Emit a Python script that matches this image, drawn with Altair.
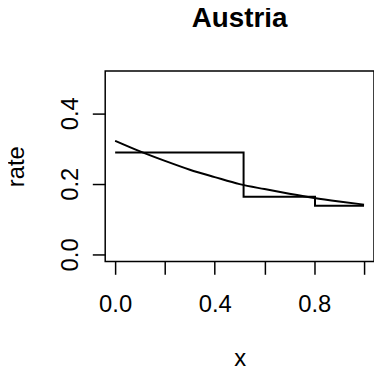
import altair as alt
import pandas as pd

# step function (piecewise-constant rate)
step_x = [0.0, 0.516, 0.803, 1.0]
step_y = [0.289, 0.163, 0.138, 0.138]

# smooth fitted curve
curve_x = [0.0, 0.1, 0.2, 0.3, 0.4, 0.5, 0.6, 0.7, 0.8, 0.9, 1.0]
curve_y = [0.322, 0.292, 0.265, 0.240, 0.219, 0.199, 0.185, 0.172, 0.160, 0.150, 0.141]

x_ticks = [0.0, 0.2, 0.4, 0.6, 0.8, 1.0]
x_labels = ["0.0", "", "0.4", "", "0.8", ""]
y_ticks = [0.0, 0.1, 0.2, 0.3, 0.4, 0.5]
y_labels = ["0.0", "", "0.2", "", "0.4", ""]

FONT = "Liberation Sans"


def label_expr(ticks, labels):
    parts = []
    for t, l in zip(ticks, labels):
        parts.append(f"abs(datum.value - {t}) < 1e-6 ? '{l}'")
    return " : ".join(parts) + " : ''"


step_df = pd.DataFrame({"x": step_x, "y": step_y})
curve_df = pd.DataFrame({"x": curve_x, "y": curve_y})

xscale = alt.Scale(domain=[-0.04, 1.04], nice=False, zero=False)
yscale = alt.Scale(domain=[-0.02, 0.52], nice=False, zero=False)

xaxis = alt.Axis(
    values=x_ticks, labelExpr=label_expr(x_ticks, x_labels), title="x",
    grid=False, domain=False, tickColor="black", tickSize=13, tickWidth=1.5,
    labelFont=FONT, labelFontSize=24, labelColor="black", labelPadding=38,
    labelBaseline="alphabetic", labelFlush=False, labelOverlap=False,
    titleFont=FONT, titleFontSize=24, titleFontWeight="normal", titleColor="black",
    titleBaseline="alphabetic", titleY=105,
)
yaxis = alt.Axis(
    values=y_ticks, labelExpr=label_expr(y_ticks, y_labels), title="rate",
    grid=False, domain=False, tickColor="black", tickSize=13, tickWidth=1.5,
    labelFont=FONT, labelFontSize=24, labelColor="black", labelPadding=15,
    labelAngle=270, labelAlign="center", labelBaseline="alphabetic",
    labelFlush=False, labelOverlap=False,
    titleFont=FONT, titleFontSize=24, titleFontWeight="normal", titleColor="black",
    titleAngle=270, titleBaseline="alphabetic", titleX=-82, titleAlign="center",
)

step = alt.Chart(step_df).mark_line(
    interpolate="step-after", color="black", strokeWidth=2, clip=True
).encode(
    x=alt.X("x:Q", scale=xscale, axis=xaxis),
    y=alt.Y("y:Q", scale=yscale, axis=yaxis),
)
curve = alt.Chart(curve_df).mark_line(
    interpolate="monotone", color="black", strokeWidth=2, clip=True
).encode(
    x=alt.X("x:Q", scale=xscale),
    y=alt.Y("y:Q", scale=yscale),
)

chart = alt.layer(step, curve).properties(
    width=271, height=192,
    title=alt.TitleParams(
        "Austria", font=FONT, fontSize=28, fontWeight="bold", color="black",
        anchor="middle", offset=38, frame="group",
    ),
    autosize=alt.AutoSizeParams(type="none"),
    padding={"left": 98, "top": 62, "right": 0, "bottom": 105},
).configure(
    background="white"
).configure_view(
    stroke="black", strokeWidth=1.5
)

chart.save("out.html", embed_options={"renderer": "svg", "actions": False})
